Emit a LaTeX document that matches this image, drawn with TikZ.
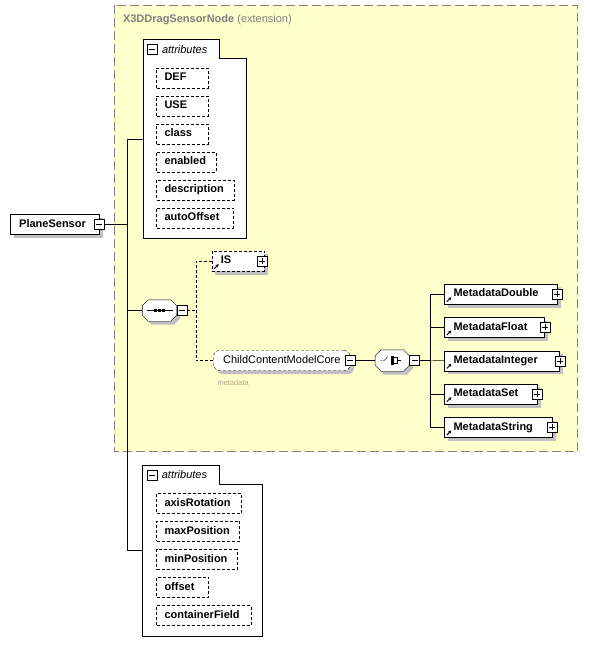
\documentclass[tikz,border=0pt]{standalone}
\usepackage{fontspec}
\setmainfont{Liberation Sans}
\usetikzlibrary{calc,arrows.meta}
\definecolor{extyellow}{RGB}{255,255,204}
\definecolor{extgray}{RGB}{128,128,128}
\definecolor{annot}{RGB}{180,165,140}
\definecolor{shadegray}{RGB}{192,192,192}
\pgfdeclarelayer{frame}
\pgfdeclarelayer{shade}
\pgfsetlayers{frame,shade,main}
\tikzset{
  elem/.style={draw,fill=white,anchor=west,text width=#1,align=left,inner xsep=9pt,inner ysep=0pt,
    minimum height=20pt,text height=8pt,text depth=2.5pt,font=\fontsize{11}{13}\selectfont\bfseries},
  optelem/.style={elem=#1,dash pattern=on 3pt off 2pt},
  attr/.style={optelem=#1,inner xsep=8pt},
  optline/.style={dash pattern=on 3pt off 2pt},
  expminus/.style={draw,fill=white,minimum size=10pt,inner sep=0pt,
    path picture={\draw ([xshift=-3pt]path picture bounding box.center) -- ([xshift=3pt]path picture bounding box.center);}},
  expplus/.style={draw,fill=white,minimum size=10pt,inner sep=0pt,
    path picture={\draw ([xshift=-3pt]path picture bounding box.center) -- ([xshift=3pt]path picture bounding box.center);
                  \draw ([yshift=-3pt]path picture bounding box.center) -- ([yshift=3pt]path picture bounding box.center);}},
  compositor/.style={minimum width=34pt,minimum height=21pt,inner sep=0pt},
  grouptitle/.style={anchor=west,font=\fontsize{11}{13}\selectfont\itshape}
}
\newcommand\refarrow[1]{\draw[-{Stealth[length=3pt,width=3.2pt]},line width=1pt] ([xshift=2.5pt,yshift=2.5pt]#1.south west) -- ++(4.5pt,4.5pt);}
% octagon: shadow first (offset 3.5), then the shape itself
\newcommand\compo[1]{%
  \foreach \o/\st in {3.5/{fill=shadegray},0/{fill=white,draw=black}}
    \path[style/.expand once=\st] ($(#1.north west)+(6+\o,\o)$) -- ($(#1.north east)+(-6+\o,\o)$) -- ($(#1.north east)+(\o,6+\o)$)
      -- ($(#1.south east)+(\o,-6+\o)$) -- ($(#1.south east)+(-6+\o,\o)$) -- ($(#1.south west)+(6+\o,\o)$)
      -- ($(#1.south west)+(\o,-6+\o)$) -- ($(#1.north west)+(\o,6+\o)$) -- cycle;}

\begin{document}
\begin{tikzpicture}[x=1pt,y=-1pt]
\useasboundingbox (0,0) rectangle (589,656);
% extension frame
\begin{pgfonlayer}{frame}
\draw[fill=extyellow,draw=extgray,line width=1pt,dash pattern=on 9pt off 4pt] (114.3,5.3) rectangle (577.3,451.7);
\end{pgfonlayer}
\node[anchor=west,text=extgray,font=\fontsize{11}{13}\selectfont] (ttl) at (119.5,20) {\textbf{X3DDragSensorNode} (extension)};
% trunk
\coordinate (busA) at (127.3,139.3);
\coordinate (busB) at (127.3,550);
\coordinate (psj) at (127.3,224.5);
\coordinate (seqj) at (127.3,310.5);
\coordinate (ag1in) at (142.7,139.3);
\coordinate (ag2in) at (142.3,550);
\draw (ag1in) -- (busA) -- (busB) -- (ag2in);
% root
\node[elem=71pt] (ps) at (10,224.5) {PlaneSensor};
\node[expminus] (psx) at (ps.east) {};
\draw (psx.east) -- (psj);
% attributes of the extension
\draw[fill=white] (142.7,238.3) -- (142.7,39.3) -- (219,39.3) -- (219,58.3) -- (245.7,58.3) -- (245.7,238.3) -- cycle;
\node[expminus] (ag1x) at (152.2,49.5) {};
\node[grouptitle] (ag1t) at (158.5,49.5) {attributes};
\node[attr=35.4pt] (def) at (156.3,77.7) {DEF};
\node[attr=35.4pt] (use) at (156.3,105.7) {USE};
\node[attr=35.4pt] (cls) at (156.3,133.7) {class};
\node[attr=43.4pt] (enb) at (156.3,161.7) {enabled};
\node[attr=61.4pt] (dsc) at (156.3,189.7) {description};
\node[attr=60.7pt] (aof) at (156.3,217.7) {autoOffset};
% sequence
\node[compositor] (seq) at (159.5,310.5) {};
\compo{seq}
\draw ([xshift=-13pt]seq.center) -- ([xshift=13pt]seq.center);
\fill ([xshift=-5.5pt,yshift=-1.3pt]seq.center) rectangle ++(2.6pt,2.6pt);
\fill ([xshift=-1.3pt,yshift=-1.3pt]seq.center) rectangle ++(2.6pt,2.6pt);
\fill ([xshift=2.9pt,yshift=-1.3pt]seq.center) rectangle ++(2.6pt,2.6pt);
\node[expminus] (seqx) at (182,310.5) {};
\draw (seqj) -- (seq.west);
\coordinate (sqj) at (196,310.5);
\draw[optline] (seqx.east) -- (sqj);
\node[optelem=34.3pt] (is) at (211.7,261) {IS};
\refarrow{is}
\node[expplus] (isx) at ([xshift=-2pt]is.east) {};
\node[optelem=128.7pt,inner xsep=4pt,align=center,rounded corners=6pt,font=\fontsize{11}{13}\selectfont] (ccm) at (213.3,360.5) {ChildContentModelCore};
\node[expminus] (ccmx) at (ccm.east) {};
\node[anchor=west,text=annot,font=\fontsize{7.5}{9}\selectfont] (ccmn) at (214,383.3) {metadata};
\draw[optline] (is.west) -| (sqj);
\draw[optline] (ccm.west) -| (sqj);
% choice
\node[compositor] (cho) at (392.3,360.5) {};
\compo{cho}
\draw ([xshift=-12pt]cho.center) -- ([xshift=-8pt]cho.center) -- ([xshift=-4.5pt,yshift=4pt]cho.center);
\fill ([xshift=-1.2pt,yshift=1.8pt]cho.center) rectangle ++(2.4pt,2.4pt);
\fill ([xshift=-1.2pt,yshift=-1.2pt]cho.center) rectangle ++(2.4pt,2.4pt);
\fill ([xshift=-1.2pt,yshift=-4.2pt]cho.center) rectangle ++(2.4pt,2.4pt);
\draw ([xshift=1.5pt,yshift=3pt]cho.center) -- ([xshift=4.5pt,yshift=3pt]cho.center) -- ([xshift=4.5pt,yshift=-3pt]cho.center) -- ([xshift=1.5pt,yshift=-3pt]cho.center);
\draw ([xshift=4.5pt]cho.center) -- ([xshift=8.5pt]cho.center);
\node[expminus] (chox) at (414.6,360.5) {};
\draw (ccmx.east) -- (cho.west);
\coordinate (chj) at (430,360.5);
\draw (chox.east) -- (chj);
\node[elem=94.7pt] (mdd) at (444.3,294) {MetadataDouble};
\node[elem=82pt] (mdf) at (444.3,327.3) {MetadataFloat};
\node[elem=97pt] (mdi) at (444.3,360.7) {MetadataInteger};
\node[elem=74.4pt] (mds) at (444.3,394) {MetadataSet};
\node[elem=89.4pt] (mdt) at (444.3,427.3) {MetadataString};
\refarrow{mdd} \refarrow{mdf} \refarrow{mdi} \refarrow{mds} \refarrow{mdt}
\node[expplus] (mddx) at (mdd.east) {};
\node[expplus] (mdfx) at (mdf.east) {};
\node[expplus] (mdix) at (mdi.east) {};
\node[expplus] (mdsx) at (mds.east) {};
\node[expplus] (mdtx) at (mdt.east) {};
\draw (mdd.west) -| (chj) |- (mdt.west);
\draw (mdf.west) -| (chj);
\draw (mds.west) -| (chj);
\draw (mdi.west) -- (chj);
% own attributes
\draw[fill=white] (142.3,636) -- (142.3,465) -- (219,465) -- (219,484) -- (262.3,484) -- (262.3,636) -- cycle;
\node[expminus] (ag2x) at (152,475) {};
\node[grouptitle] (ag2t) at (158.3,475) {attributes};
\node[attr=68.7pt] (axr) at (156.3,503.3) {axisRotation};
\node[attr=67pt] (mxp) at (156.3,531.3) {maxPosition};
\node[attr=64.4pt] (mnp) at (156.3,559.3) {minPosition};
\node[attr=36pt] (ofs) at (156.3,587.3) {offset};
\node[attr=78.4pt] (cfd) at (156.3,615.3) {containerField};
% shadows
\begin{pgfonlayer}{shade}
\foreach \nd in {ps,def,use,cls,enb,dsc,aof,is,mdd,mdf,mdi,mds,mdt,axr,mxp,mnp,ofs,cfd}
  \fill[shadegray] ($(\nd.south west)+(3.5,3.5)$) rectangle ($(\nd.north east)+(3.5,3.5)$);
\fill[shadegray,rounded corners=6pt] ($(ccm.south west)+(3.5,3.5)$) rectangle ($(ccm.north east)+(3.5,3.5)$);
\end{pgfonlayer}
\end{tikzpicture}
\end{document}
